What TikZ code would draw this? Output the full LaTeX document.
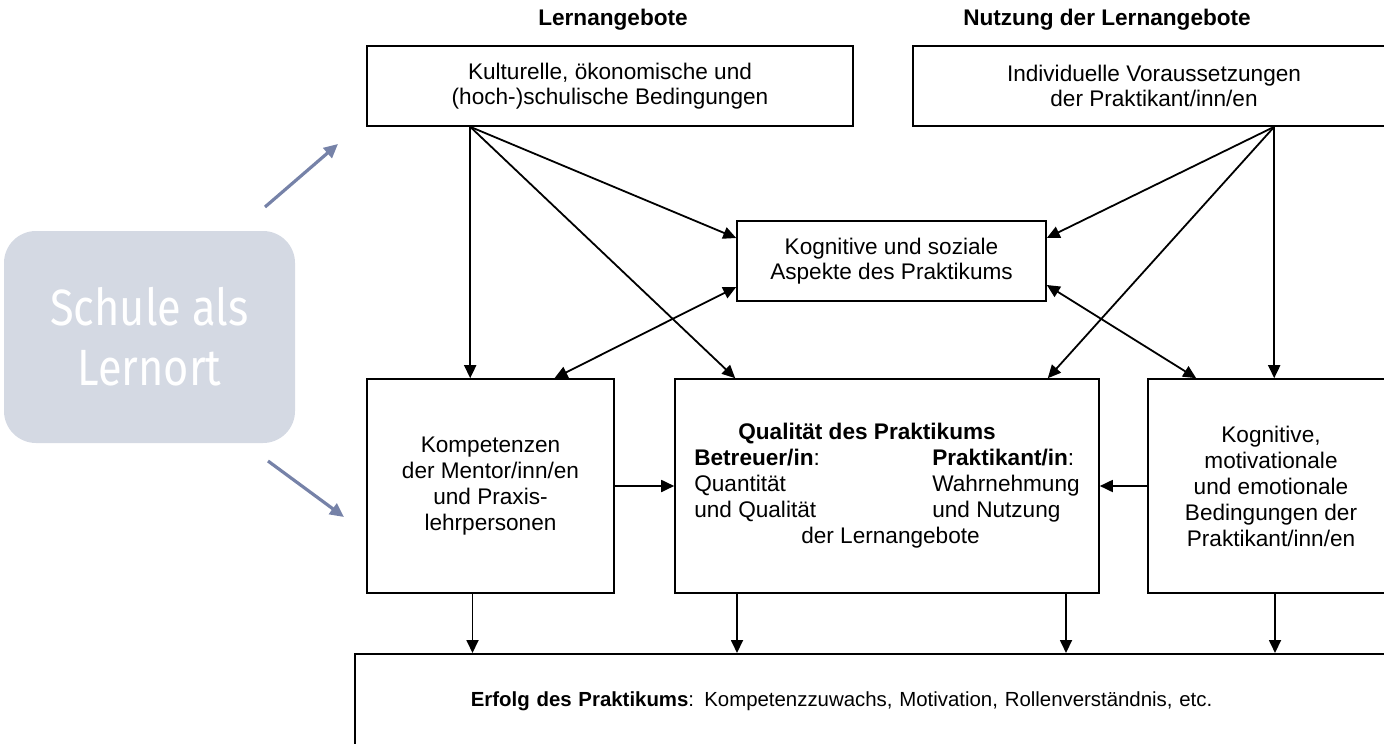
\documentclass[tikz,border=0pt]{standalone}
\usepackage{fontspec}
\setmainfont{Liberation Sans}
\newfontfamily\schulefont[FakeStretch=0.85]{Fira Sans}
\usetikzlibrary{positioning,arrows.meta}
\definecolor{slate}{HTML}{7682A8}
\definecolor{mist}{HTML}{D4D9E3}
\newcommand{\boxfont}{\fontsize{11.3}{12.2}\selectfont}
\newcommand{\midfont}{\fontsize{11.3}{13}\selectfont}

\begin{document}
\begin{tikzpicture}[x=0.5pt,y=-0.5pt,
  frame/.style={draw,line width=0.8pt,align=center,font=\boxfont,inner sep=0pt},
  head/.style={font=\boxfont\bfseries},
  arr/.style={-{Triangle[length=6.5pt,width=6pt]},line width=0.9pt},
  dbl/.style={{Triangle[length=6.5pt,width=6pt]}-{Triangle[length=6.5pt,width=6pt]},line width=0.9pt},
  hint/.style={-{Triangle[length=7pt,width=6.5pt]},slate,line width=1.6pt},
  place/.style={fill=mist,rounded corners=16pt,minimum width=145.5pt,minimum height=106pt,text=white,align=center,font=\schulefont\fontsize{25.5}{30}\selectfont}]
  \useasboundingbox (0,0) rectangle (1384,743);
  \clip (0,0) rectangle (1384,743);
  % school as place of learning
  \node[place] (schule) at (149.5,337) {Schule als\\Lernort};
  \coordinate (up0) at (265,207);
  \coordinate (up1) at (338,144);
  \coordinate (dn0) at (268,461);
  \coordinate (dn1) at (344,517);
  \draw[hint] (up0) -- (up1);
  \draw[hint] (dn0) -- (dn1);
  % top row
  \node[head] (hlern) at (613,20) {Lernangebote};
  \node[head] (hnutz) at (1107,20) {Nutzung der Lernangebote};
  \node[frame,minimum width=243pt,minimum height=40pt] (kultur) at (610,86) {Kulturelle, ökonomische und\\(hoch-)schulische Bedingungen};
  \node[frame,minimum width=241pt,minimum height=40pt] (indiv) at (1154,86) {Individuelle Voraussetzungen\\der Praktikant/inn/en};
  \node[frame,minimum width=154.5pt,minimum height=40pt] (sozial) at (891.5,261) {Kognitive und soziale\\Aspekte des Praktikums};
  % middle row
  \node[frame,font=\midfont,minimum width=123.5pt,minimum height=107pt] (kompet) at (490.5,486) {Kompetenzen\\der Mentor/inn/en\\und Praxis-\\lehrpersonen};
  \node[frame,font=\midfont,minimum width=212pt,minimum height=107pt] (qual) at (887,486) {%
    \begin{tabular}{@{}p{119pt}@{}l@{}}
      \multicolumn{2}{@{}l@{}}{\hspace{22pt}\textbf{Qualität des Praktikums}}\\
      \textbf{Betreuer/in}: & \textbf{Praktikant/in}:\\
      Quantität & Wahrnehmung\\
      und Qualität & und Nutzung\\
      \multicolumn{2}{@{}l@{}}{\hspace{53.5pt}der Lernangebote}
    \end{tabular}};
  \node[frame,font=\midfont,minimum width=123pt,minimum height=107pt] (kogn) at (1271,486) {Kognitive,\\motivationale\\und emotionale\\Bedingungen der\\Praktikant/inn/en};
  % outcome
  \node[frame,anchor=north west,text width=465pt,inner xsep=58pt,minimum height=47pt,align=left,font=\fontsize{10.2}{12}\selectfont] (erfolg) at (354,653) {\textbf{Erfolg des Praktikums}: Kompetenzzuwachs, Motivation, Rollenverständnis, etc.};
  % arrows
  \coordinate (kfoot) at ([xshift=52pt]kultur.south west);
  \coordinate (ifoot) at ([xshift=181pt]indiv.south west);
  \draw[arr] (kfoot) -- (kfoot |- kompet.north);
  \draw[arr] (kfoot) -- ([yshift=11.5pt]sozial.west);
  \draw[arr] (kfoot) -- ([xshift=30.5pt]qual.north west);
  \draw[dbl] ([xshift=32pt]kompet.north) -- ([yshift=-13pt]sozial.west);
  \draw[arr] (ifoot) -- ([yshift=11.5pt]sozial.east);
  \draw[arr] (ifoot) -- ([xshift=-26pt]qual.north east);
  \draw[arr] (ifoot) -- (ifoot |- kogn.north);
  \draw[dbl] ([yshift=-12pt]sozial.east) -- ([xshift=24.5pt]kogn.north west);
  \draw[arr] (kompet) -- (qual);
  \draw[arr] (kogn) -- (qual);
  \foreach \n/\dx in {kompet/-9pt,qual/-75pt,qual/89.5pt,kogn/2pt}{
    \coordinate (foot) at ([xshift=\dx]\n.south);
    \draw[arr] (foot) -- (foot |- erfolg.north);
  }
\end{tikzpicture}
\end{document}
